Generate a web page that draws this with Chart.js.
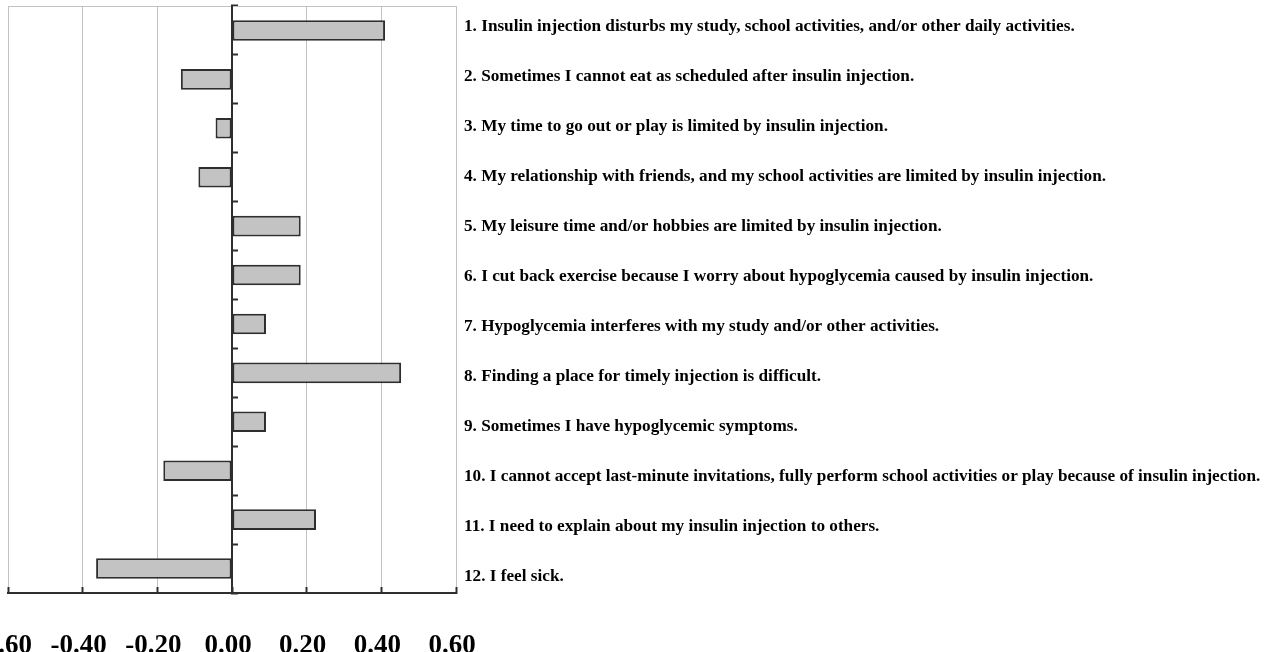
<!DOCTYPE html>
<html>
<head>
<meta charset="utf-8">
<script src="https://cdn.jsdelivr.net/npm/chart.js@4.4.1/dist/chart.umd.min.js"></script>
<style>
html,body{margin:0;padding:0;background:#fff;overflow:hidden}
#wrap{position:relative;width:1275px;height:652px}
</style>
</head>
<body>
<div id="wrap"><canvas id="c" width="1275" height="652"></canvas></div>
<script>
const categories = [
  "1. Insulin injection disturbs my study, school activities, and/or other daily activities.",
  "2. Sometimes I cannot eat as scheduled after insulin injection.",
  "3. My time to go out or play is limited by insulin injection.",
  "4. My relationship with friends, and my school activities are limited by insulin injection.",
  "5. My leisure time and/or hobbies are limited by insulin injection.",
  "6. I cut back exercise because I worry about hypoglycemia caused by insulin injection.",
  "7. Hypoglycemia interferes with my study and/or other activities.",
  "8. Finding a place for timely injection is difficult.",
  "9. Sometimes I have hypoglycemic symptoms.",
  "10. I cannot accept last-minute invitations, fully perform school activities or play because of insulin injection.",
  "11. I need to explain about my insulin injection to others.",
  "12. I feel sick."
];
const values = [0.41, -0.137, -0.044, -0.09, 0.184, 0.184, 0.091, 0.453, 0.091, -0.184, 0.225, -0.364];
const xTickValues = [-0.6, -0.4, -0.2, 0, 0.2, 0.4, 0.6];
const xTickLabels = ["-0.60", "-0.40", "-0.20", "0.00", "0.20", "0.40", "0.60"];

const FAMILY = "'Liberation Serif', 'Times New Roman', serif";
const DARK = '#2e2e2e';
const LIGHT = '#c2c2c2';

new Chart(document.getElementById('c'), {
  type: 'bar',
  data: {
    labels: categories,
    datasets: [{
      data: values,
      xAxisID: 'x',
      yAxisID: 'y',
      backgroundColor: '#c3c3c3',
      borderColor: DARK,
      borderWidth: 2,
      borderSkipped: false,
      barPercentage: 0.42,
      categoryPercentage: 1
    }]
  },
  options: {
    indexAxis: 'y',
    responsive: false,
    animation: false,
    devicePixelRatio: 1,
    layout: { padding: { left: 8, top: 6, right: 0, bottom: 0 } },
    plugins: { legend: { display: false }, tooltip: { enabled: false } },
    scales: {
      x: {
        type: 'linear', position: 'bottom', min: -0.6, max: 0.6,
        afterBuildTicks: s => { s.ticks = xTickValues.map(v => ({ value: v })); },
        afterFit: s => { s.paddingLeft = 0; s.paddingRight = 0; s.height = 59; },
        grid: { color: LIGHT, lineWidth: 1, drawTicks: true, tickLength: -6, tickColor: DARK, tickWidth: 2 },
        border: { display: true, color: DARK, width: 2 },
        ticks: {
          padding: 43, labelOffset: -4, color: '#000', maxRotation: 0, autoSkip: false,
          font: { family: FAMILY, size: 27, weight: 'bold' },
          callback: (v, i) => xTickLabels[i]
        }
      },
      x2: {
        type: 'linear', position: 'top', min: -0.6, max: 0.6,
        grid: { display: false, drawTicks: false },
        ticks: { display: false },
        border: { display: true, color: LIGHT, width: 1 },
        afterFit: s => { s.height = 0; s.paddingLeft = 0; s.paddingRight = 0; }
      },
      y: {
        type: 'category', position: { x: 0 }, offset: true,
        grid: { display: true, offset: true, drawOnChartArea: false, drawTicks: true, tickLength: -7, tickColor: DARK, tickWidth: 2 },
        border: { display: true, color: DARK, width: 2 },
        ticks: { display: false }
      },
      yl: {
        type: 'linear', position: 'right', reverse: true, offset: false, min: -0.42, max: 11.32,
        afterBuildTicks: s => { s.ticks = categories.map((_, i) => ({ value: i })); },
        afterFit: s => { s.width = 819; s.paddingTop = 0; s.paddingBottom = 0; },
        grid: { display: false, drawTicks: false, offset: false },
        border: { display: false },
        ticks: {
          padding: 8, color: '#000', autoSkip: false,
          font: { family: FAMILY, size: 17.2, weight: 'bold' },
          callback: (v, i) => categories[i]
        }
      }
    }
  }
});
</script>
</body>
</html>
